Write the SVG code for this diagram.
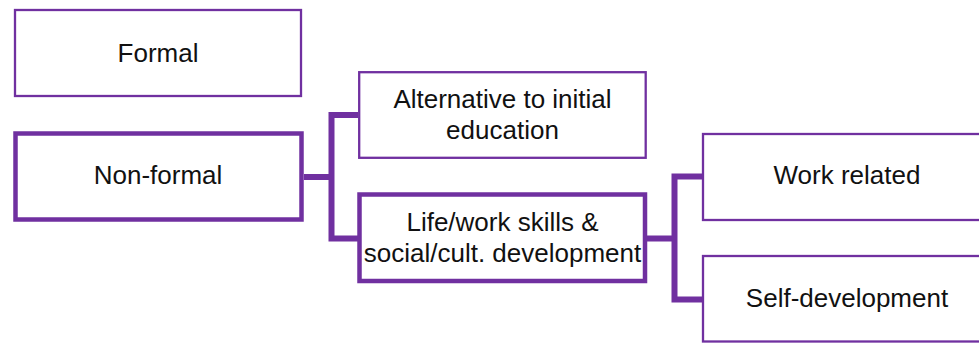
<svg xmlns="http://www.w3.org/2000/svg" width="979" height="343" viewBox="0 0 979 343">
<style>
.box{fill:#ffffff;stroke:#7030A0}
.thin{stroke-width:2.3}
.thick{stroke-width:4.5}
.lbl{font-family:"Liberation Sans",Arial,sans-serif;font-size:26px;fill:#111111;text-anchor:middle}
.conn{fill:none;stroke:#7030A0;stroke-width:6;stroke-linejoin:miter;stroke-linecap:butt}
</style>
<rect x="0" y="0" width="979" height="343" fill="#ffffff"/>
<g id="connectors">
<path class="conn" d="M304 177 H331.5 M358 115 H331.5 V238.5 H358"/>
<path class="conn" d="M647 238.5 H674.5 M702 176.5 H674.5 V299.5 H702"/>
</g>
<g id="formal">
<rect class="box thin" x="15" y="10" width="286" height="86"/>
<text class="lbl" x="158" y="62">Formal</text>
</g>
<g id="non-formal">
<rect class="box thick" x="15.5" y="133.5" width="286" height="86"/>
<text class="lbl" x="158" y="184">Non-formal</text>
</g>
<g id="alternative">
<rect class="box thin" x="359.2" y="72.2" width="286.5" height="85.6"/>
<text class="lbl" x="502.5" y="108">Alternative to initial</text>
<text class="lbl" x="502.5" y="139">education</text>
</g>
<g id="life-work">
<rect class="box thick" x="359.5" y="194.5" width="285.5" height="86.5"/>
<text class="lbl" x="502.5" y="231">Life/work skills &amp;</text>
<text class="lbl" x="502.5" y="262">social/cult. development</text>
</g>
<g id="work-related">
<rect class="box thin" x="703" y="134" width="288" height="86"/>
<text class="lbl" x="847" y="184">Work related</text>
</g>
<g id="self-development">
<rect class="box thin" x="703" y="256" width="288" height="85.5"/>
<text class="lbl" x="847" y="307">Self-development</text>
</g>
</svg>
